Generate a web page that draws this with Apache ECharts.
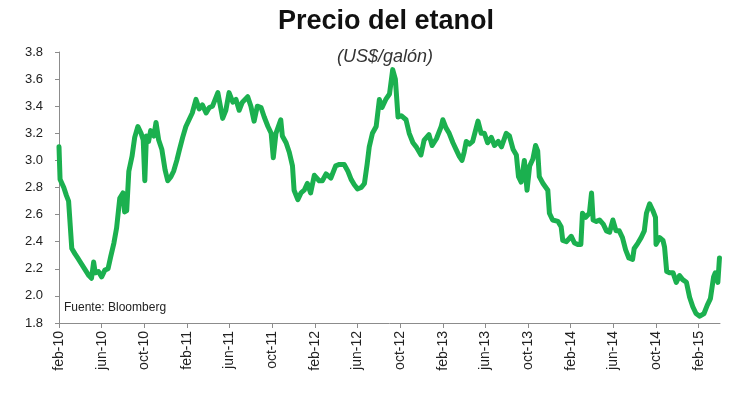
<!DOCTYPE html>
<html>
<head>
<meta charset="utf-8">
<script src="https://cdn.jsdelivr.net/npm/echarts@6/dist/echarts.min.js"></script>
<style>
html,body{margin:0;padding:0;background:#fff;}
#chart{width:743px;height:396px;}
</style>
</head>
<body>
<div id="chart"></div>
<script>
// months elapsed since feb-2010
var monthOffset = [
0,0.1,0.45,0.7,0.9,1.2,1.5,1.75,2.0,2.4,2.8,3.05,3.25,3.4,3.7,4.0,4.3,4.6,4.85,5.15,
5.4,5.7,6.0,6.15,6.35,6.55,6.85,7.1,7.4,7.7,7.9,8.05,8.2,8.4,8.6,8.9,9.1,9.35,9.65,9.95,
10.2,10.5,10.75,11.05,11.3,11.6,11.9,12.2,12.5,12.85,13.15,13.45,13.8,14.1,14.4,14.9,15.35,15.65,15.95,16.3,
16.6,16.9,17.2,17.7,18.0,18.3,18.6,18.95,19.25,19.6,19.9,20.1,20.35,20.8,20.95,21.3,21.6,21.9,22.05,22.4,
22.7,23.0,23.3,23.6,23.95,24.4,24.7,25.05,25.5,25.95,26.3,26.75,27.1,27.4,27.7,28.0,28.35,28.65,28.9,29.1,
29.4,29.75,30.05,30.3,30.65,31.0,31.3,31.55,31.8,32.1,32.55,32.85,33.2,33.5,33.95,34.25,34.7,35.0,35.4,35.85,
36.0,36.3,36.6,36.95,37.25,37.55,37.8,38.0,38.2,38.5,38.8,39.3,39.6,39.9,40.2,40.55,40.85,41.2,41.5,41.95,
42.25,42.6,42.9,43.1,43.35,43.65,43.9,44.15,44.45,44.7,44.9,45.05,45.4,45.85,46.0,46.3,46.8,47.1,47.25,47.6,
48.05,48.35,48.65,48.95,49.1,49.4,49.75,49.95,50.1,50.4,50.7,51.05,51.35,51.65,51.95,52.25,52.55,52.85,53.15,53.45,
53.8,53.95,54.3,54.6,54.9,55.1,55.4,55.7,55.95,56.0,56.35,56.65,56.8,57.0,57.3,57.6,57.9,58.2,58.5,58.85,
59.15,59.45,59.75,60.1,60.5,60.8,61.1,61.4,61.55,61.8,61.95
];
// ethanol price, US$/gallon
var price = [
3.10,2.86,2.80,2.74,2.70,2.35,2.31,2.28,2.25,2.20,2.15,2.13,2.25,2.17,2.18,2.14,2.19,2.20,2.29,2.39,
2.50,2.72,2.76,2.62,2.63,2.92,3.03,3.17,3.25,3.20,3.15,2.85,3.18,3.14,3.22,3.18,3.28,3.15,3.08,2.93,
2.85,2.88,2.92,3.00,3.08,3.17,3.25,3.30,3.35,3.45,3.38,3.41,3.35,3.39,3.40,3.50,3.31,3.37,3.50,3.43,
3.45,3.37,3.43,3.47,3.40,3.29,3.40,3.39,3.32,3.25,3.20,3.02,3.20,3.30,3.18,3.13,3.06,2.96,2.78,2.71,
2.76,2.78,2.83,2.76,2.89,2.85,2.85,2.90,2.87,2.96,2.97,2.97,2.92,2.86,2.82,2.79,2.80,2.83,2.97,3.10,
3.20,3.25,3.45,3.39,3.45,3.49,3.67,3.60,3.32,3.33,3.30,3.20,3.13,3.10,3.04,3.15,3.19,3.11,3.16,3.25,
3.30,3.24,3.20,3.13,3.08,3.03,3.00,3.06,3.14,3.12,3.14,3.29,3.20,3.20,3.13,3.17,3.11,3.14,3.10,3.20,
3.18,3.08,3.04,2.88,2.84,3.00,2.78,2.96,3.01,3.11,3.07,2.88,2.83,2.78,2.61,2.56,2.55,2.51,2.41,2.40,
2.44,2.39,2.38,2.38,2.61,2.58,2.61,2.76,2.56,2.55,2.56,2.53,2.48,2.47,2.56,2.48,2.48,2.43,2.34,2.28,
2.27,2.35,2.39,2.43,2.48,2.61,2.68,2.63,2.58,2.38,2.43,2.41,2.36,2.18,2.17,2.17,2.10,2.15,2.12,2.10,
1.99,1.92,1.87,1.85,1.87,1.93,1.98,2.14,2.17,2.10,2.28
];
var tickMonths = [0,4,8,12,16,20,24,28,32,36,40,44,48,52,56,60];
var tickLabels = ['feb-10','jun-10','oct-10','feb-11','jun-11','oct-11','feb-12','jun-12',
                  'oct-12','feb-13','jun-13','oct-13','feb-14','jun-14','oct-14','feb-15'];

var seriesData = monthOffset.map(function (m, i) { return [m, price[i]]; });

var chart = echarts.init(document.getElementById('chart'), null, {renderer: 'canvas'});
chart.setOption({
  animation: false,
  backgroundColor: '#ffffff',
  grid: {left: 59, right: 23, top: 52, bottom: 73, containLabel: false},
  xAxis: {
    type: 'value',
    min: 0,
    max: 62,
    interval: 4,
    splitLine: {show: false},
    axisLine: {lineStyle: {color: '#8c8c8c', width: 1}},
    axisTick: {show: true, length: 5, lineStyle: {color: '#8c8c8c'}, customValues: tickMonths},
    axisLabel: {
      rotate: 90,
      margin: 8,
      fontFamily: 'Liberation Sans',
      fontSize: 14,
      color: '#222',
      customValues: tickMonths,
      formatter: function (v) {
        var idx = tickMonths.indexOf(Math.round(v));
        return idx >= 0 ? tickLabels[idx] : '';
      }
    }
  },
  yAxis: {
    type: 'value',
    min: 1.8,
    max: 3.8,
    interval: 0.2,
    splitLine: {show: false},
    axisLine: {show: true, lineStyle: {color: '#8c8c8c', width: 1}},
    axisTick: {show: true, length: 4, lineStyle: {color: '#8c8c8c'}},
    axisLabel: {
      margin: 16,
      fontFamily: 'Liberation Sans',
      fontSize: 13,
      color: '#222',
      formatter: function (v) { return v.toFixed(1); }
    }
  },
  graphic: [{
    type: 'text',
    x: 386,
    y: 22,
    style: {text: 'Precio del etanol', fontFamily: 'Liberation Sans', fontWeight: 'bold', fontSize: 27,
            fill: '#111', align: 'center', verticalAlign: 'middle'}
  }, {
    type: 'text',
    x: 385,
    y: 57,
    style: {text: '(US$/galón)', fontFamily: 'Liberation Sans', fontStyle: 'italic', fontSize: 18,
            fill: '#333', align: 'center', verticalAlign: 'middle'}
  }, {
    type: 'text',
    left: 64,
    top: 302,
    style: {text: 'Fuente: Bloomberg', fontFamily: 'Liberation Sans', fontSize: 12, fill: '#222'}
  }],
  series: [{
    type: 'line',
    data: seriesData,
    showSymbol: false,
    symbol: 'none',
    smooth: false,
    lineStyle: {color: '#1bb04f', width: 5, join: 'round', cap: 'round'}
  }]
});
</script>
</body>
</html>
